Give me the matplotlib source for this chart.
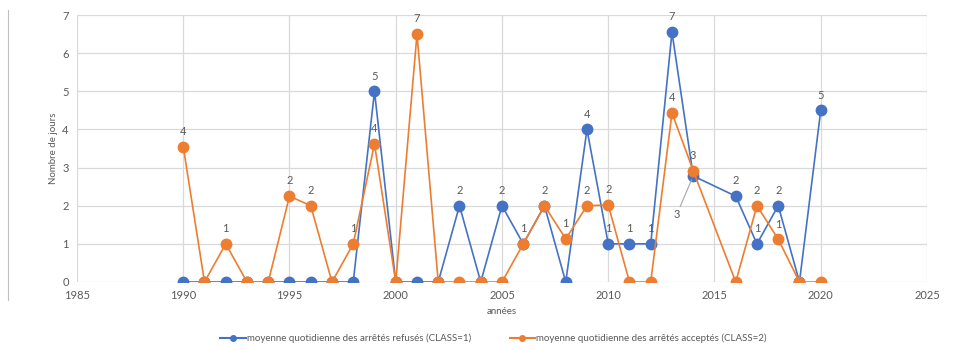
import numpy as np
import matplotlib.pyplot as plt
from matplotlib.lines import Line2D

plt.rcParams["font.family"] = ["Lato", "DejaVu Sans"]

# années (2015 absent from both series)
years = [1990, 1991, 1992, 1993, 1994, 1995, 1996, 1997, 1998, 1999,
         2000, 2001, 2002, 2003, 2004, 2005, 2006, 2007, 2008, 2009,
         2010, 2011, 2012, 2013, 2014, 2016, 2017, 2018, 2019, 2020]

# moyenne quotidienne des arrêtés refusés (CLASS=1)
refuses = [0, 0, 0, 0, 0, 0, 0, 0, 0, 5,
           0, 0, 0, 2, 0, 2, 1, 2, 0, 4,
           1, 1, 1, 6.55, 2.78, 2.25, 1, 2, 0, 4.5]

# moyenne quotidienne des arrêtés acceptés (CLASS=2)
acceptes = [3.55, 0, 1, 0, 0, 2.25, 2, 0, 1, 3.62,
            0, 6.5, 0, 0, 0, 0, 1, 2, 1.13, 2,
            2.02, 0, 0, 4.43, 2.92, 0, 2, 1.12, 0, 0]

BLUE = "#4472C4"
ORANGE = "#ED7D31"
TXT = "#595959"

fig = plt.figure(figsize=(9.6, 3.49), dpi=100)
ax = fig.add_axes([0.0802, 0.192, 0.8854, 0.765])

ax.plot(years, refuses, color=BLUE, lw=1.2, marker="o", ms=7.5, zorder=3,
        label="moyenne quotidienne des arrêtés refusés (CLASS=1)")
ax.plot(years, acceptes, color=ORANGE, lw=1.2, marker="o", ms=7.5, zorder=4,
        label="moyenne quotidienne des arrêtés acceptés (CLASS=2)")


def lab(v):
    return str(int(np.floor(v + 0.5)))


# data labels, zeros are not labelled
for x, v in zip(years, refuses):
    if v == 0:
        continue
    if x == 2014:
        ax.annotate(lab(v), xy=(x, v), xytext=(-12, -32), textcoords="offset points",
                    ha="center", va="bottom", fontsize=8, color=TXT,
                    arrowprops=dict(arrowstyle="-", color="#a6a6a6", lw=0.8,
                                    shrinkA=0, shrinkB=3))
        continue
    ax.annotate(lab(v), xy=(x, v), xytext=(0, 7), textcoords="offset points",
                ha="center", va="bottom", fontsize=8, color=TXT)

for x, v, r in zip(years, acceptes, refuses):
    # skip zeros and points already labelled by the other series
    if v == 0 or v == r:
        continue
    ax.annotate(lab(v), xy=(x, v), xytext=(0, 7), textcoords="offset points",
                ha="center", va="bottom", fontsize=8, color=TXT)

ax.set_xlim(1985, 2025)
ax.set_ylim(0, 7)
ax.set_xticks(range(1985, 2026, 5))
ax.set_yticks(range(0, 8))
ax.grid(True, color="#d9d9d9", lw=0.9)
ax.set_axisbelow(True)
for s in ax.spines.values():
    s.set_visible(False)
ax.tick_params(length=0, labelsize=8, labelcolor=TXT, pad=6)

ax.set_ylabel("Nombre de jours", fontsize=7, color=TXT, labelpad=3)
ax.set_xlabel("années", fontsize=7, color=TXT, labelpad=4)

handles = [Line2D([], [], color=BLUE, lw=1.5, marker="o", ms=4),
           Line2D([], [], color=ORANGE, lw=1.5, marker="o", ms=4)]
fig.legend(handles, [ax.lines[0].get_label(), ax.lines[1].get_label()],
           loc="center", bbox_to_anchor=(0.514, 0.03), ncol=2, frameon=False,
           fontsize=7.0, labelcolor=TXT, handlelength=2.6, handletextpad=0.1,
           columnspacing=4.0)

# left border line
fig.add_artist(Line2D([0.0085, 0.0085], [0.14, 0.97], color="#bfbfbf", lw=0.8))

fig.savefig("out.png", dpi=100)
